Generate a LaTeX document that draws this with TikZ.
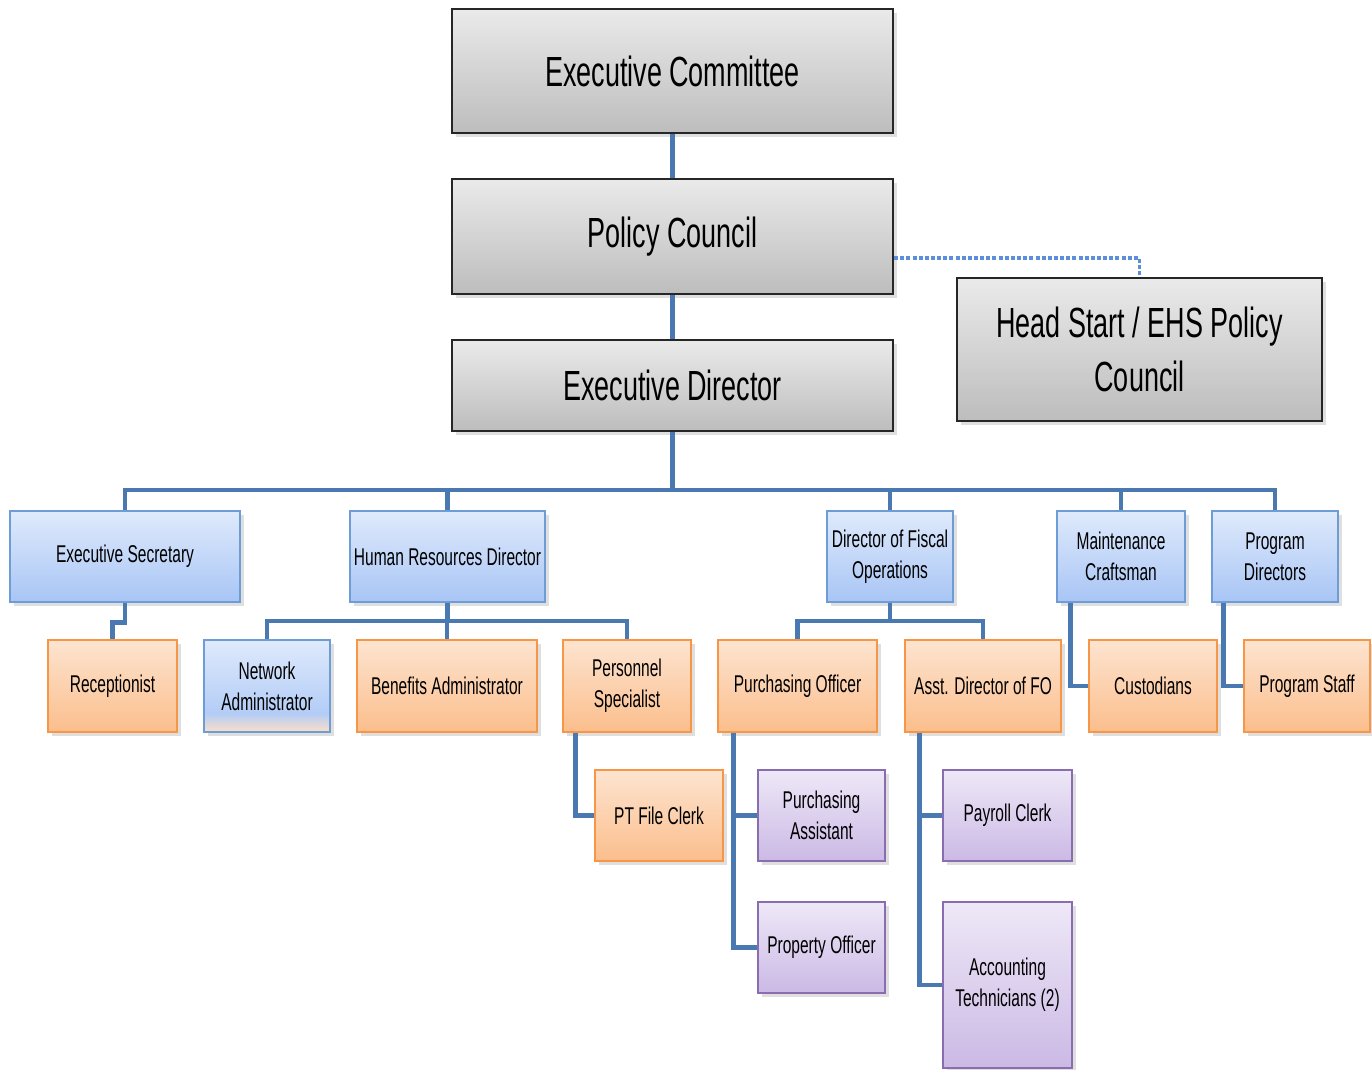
\documentclass[tikz,border=0pt]{standalone}
\usepackage{fontspec}
\setmainfont{Liberation Sans}[FakeStretch=0.64]
\usetikzlibrary{shadows}

\definecolor{linkblue}{HTML}{4A78B0}
\definecolor{dotblue}{HTML}{5B8FD9}
\definecolor{grayTop}{HTML}{EAEAEA}
\definecolor{grayBot}{HTML}{BDBDBD}
\definecolor{blueTop}{HTML}{DFEAFC}
\definecolor{blueBot}{HTML}{A8C5F5}
\definecolor{blueLine}{HTML}{6E9DD6}
\definecolor{orangeTop}{HTML}{FDE4D0}
\definecolor{orangeBot}{HTML}{FBBE8C}
\definecolor{orangeLine}{HTML}{F79646}
\definecolor{purpleTop}{HTML}{EEE8F7}
\definecolor{purpleBot}{HTML}{CBB9E5}
\definecolor{purpleLine}{HTML}{8A6DB0}

% blue box that turns peach at its foot
\pgfdeclareverticalshading{netshade}{100bp}{color(0bp)=(orangeTop!85!orangeBot); color(25bp)=(orangeTop!85!orangeBot); color(35bp)=(blueBot!80!blueTop); color(75bp)=(blueTop); color(100bp)=(blueTop)}

\tikzset{
  boxsize/.style 2 args={minimum width=#1*0.02cm, minimum height=#2*0.02cm},
  basebox/.style={rectangle, inner sep=0pt, align=center, text=black,
    drop shadow={shadow xshift=2pt, shadow yshift=-2.5pt, opacity=0.25}},
  topbox/.style={basebox, draw=black!85, line width=1.2pt,
    top color=grayTop, bottom color=grayBot,
    font=\fontsize{24}{28}\selectfont},
  bluebox/.style={basebox, draw=blueLine, line width=1pt,
    top color=blueTop, bottom color=blueBot,
    font=\fontsize{13.8}{17.5}\selectfont},
  orangebox/.style={basebox, draw=orangeLine, line width=1pt,
    top color=orangeTop, bottom color=orangeBot,
    font=\fontsize{13.8}{17.5}\selectfont},
  purplebox/.style={basebox, draw=purpleLine, line width=1pt,
    top color=purpleTop, bottom color=purpleBot,
    font=\fontsize{13.8}{17.5}\selectfont},
  link/.style={draw=linkblue, line width=2.8pt},
  dotlink/.style={draw=dotblue, line width=2.2pt, dash pattern=on 2.3pt off 1.2pt}
}

\begin{document}
\begin{tikzpicture}[x=0.02cm, y=-0.02cm]

  \useasboundingbox (0,0) rectangle (1372,1070);

  % top of the chart
  \node [topbox, boxsize={441}{124}] (ec) at (672.5, 71) {Executive Committee};
  \node [topbox, boxsize={441}{115}] (pc) at (672.5, 236.5) {Policy Council};
  \node [topbox, boxsize={441}{91}] (ed) at (672.5, 385.5) {Executive Director};
  \node [topbox, boxsize={365}{143}, font=\fontsize{24}{31}\selectfont] (hs) at (1139.5, 349.5) {Head Start / EHS Policy\\Council};

  % second row
  \node [bluebox, boxsize={230}{91}] (es) at (125, 556.5) {Executive Secretary};
  \node [bluebox, boxsize={195}{91}] (hr) at (447.5, 556.5) {Human Resources Director};
  \node [bluebox, boxsize={126}{91}] (fo) at (890, 556.5) {Director of Fiscal\\Operations};
  \node [bluebox, boxsize={128}{91}] (mc) at (1121, 556.5) {Maintenance\\Craftsman};
  \node [bluebox, boxsize={126}{91}] (pd) at (1275, 556.5) {Program\\Directors};

  % third row
  \node [orangebox, boxsize={129}{92}] (rc) at (112.5, 686) {Receptionist};
  \node [basebox, draw=blueLine, line width=1pt, shading=netshade, boxsize={126}{92},
         font=\fontsize{13.8}{17.5}\selectfont] (na) at (267, 686) {Network\\Administrator};
  \node [orangebox, boxsize={180}{92}] (ba) at (447, 686) {Benefits Administrator};
  \node [orangebox, boxsize={128}{92}] (ps) at (627, 686) {Personnel\\Specialist};
  \node [orangebox, boxsize={159}{92}] (po) at (797.5, 686) {Purchasing Officer};
  \node [orangebox, boxsize={156}{92}] (ad) at (983, 686) {Asst. Director of FO};
  \node [orangebox, boxsize={128}{92}] (cu) at (1153, 686) {Custodians};
  \node [orangebox, boxsize={126}{92}] (st) at (1307, 686) {Program Staff};

  % lower rows
  \node [orangebox, boxsize={128}{91}] (pt) at (659, 815.5) {PT File Clerk};
  \node [purplebox, boxsize={127}{91}] (pa) at (821.5, 815.5) {Purchasing\\Assistant};
  \node [purplebox, boxsize={127}{91}] (pf) at (821.5, 947.5) {Property Officer};
  \node [purplebox, boxsize={129}{91}] (pk) at (1007.5, 815.5) {Payroll Clerk};
  \node [purplebox, boxsize={129}{166}] (at) at (1007.5, 985) {Accounting\\Technicians (2)};

  % bus lines
  \coordinate (bus) at (672.5, 490);
  \coordinate (hrbus) at (447.5, 621);
  \coordinate (fobus) at (890, 621);

  \draw [link] (ec.south) -- (pc.north);
  \draw [link] (pc.south) -- (ed.north);
  \draw [dotlink] ([yshift=-0.43cm]pc.east) -| (hs.north);

  \draw [link] (ed.south) -- (bus);
  \draw [link] (es.north) |- (bus) -| (pd.north);
  \foreach \n in {hr, fo, mc}
    \draw [link] (\n.north) -- (\n.north |- bus);

  \draw [link] (es.south) -- ++(0, 20) -| (rc.north);

  \draw [link] (hr.south) -- (hrbus);
  \draw [link] (na.north) |- (hrbus) -| (ps.north);
  \draw [link] (ba.north) -- (ba.north |- hrbus);
  \draw [link] ([xshift=0.26cm]ps.south west) |- (pt.west);

  \draw [link] (fo.south) -- (fobus);
  \draw [link] (po.north) |- (fobus) -| (ad.north);
  \draw [link] ([xshift=0.32cm]po.south west) |- (pa.west);
  \draw [link] ([xshift=0.32cm]po.south west) |- (pf.west);
  \draw [link] ([xshift=0.3cm]ad.south west) |- (pk.west);
  \draw [link] ([xshift=0.3cm]ad.south west) |- (at.west);

  \draw [link] ([xshift=0.28cm]mc.south west) |- (cu.west);
  \draw [link] ([xshift=0.24cm]pd.south west) |- (st.west);

\end{tikzpicture}
\end{document}
